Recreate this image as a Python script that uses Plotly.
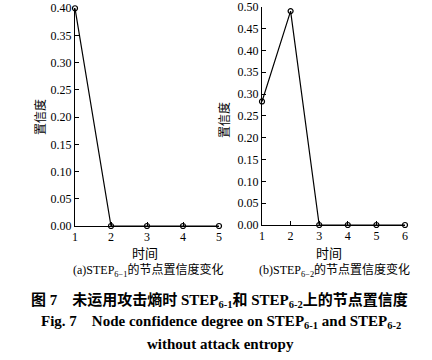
import plotly.graph_objects as go

time_a = [1, 2, 3, 4, 5]
conf_a = [0.40, 0.0, 0.0, 0.0, 0.0]
time_b = [1, 2, 3, 4, 5, 6]
conf_b = [0.283, 0.49, 0.0, 0.0, 0.0, 0.0]
yticks_a = [0.00, 0.05, 0.10, 0.15, 0.20, 0.25, 0.30, 0.35, 0.40]
yticks_b = [0.00, 0.05, 0.10, 0.15, 0.20, 0.25, 0.30, 0.35, 0.40, 0.45, 0.50]

W, H = 432, 360
SERIF = "Liberation Serif, Times New Roman, serif"
CJK = "Noto Sans CJK SC"

def px_x(p):
    return p / W

def px_y(p):
    return 1 - p / H

fig = go.Figure()
line_style = dict(color="black", width=1.2)
marker_style = dict(symbol="circle-open", size=5, color="black", line=dict(width=1.2))
fig.add_trace(go.Scatter(x=time_a, y=conf_a, mode="lines+markers", line=line_style,
                         marker=marker_style, xaxis="x", yaxis="y", cliponaxis=False,
                         showlegend=False))
fig.add_trace(go.Scatter(x=time_b, y=conf_b, mode="lines+markers", line=line_style,
                         marker=marker_style, xaxis="x2", yaxis="y2", cliponaxis=False,
                         showlegend=False))

axis_common = dict(showline=True, linecolor="black", linewidth=1, showgrid=False,
                   zeroline=False, ticks="inside", ticklen=4, tickcolor="black",
                   automargin=False, ticklabeloverflow="allow",
                   tickfont=dict(family=SERIF, size=12, color="black"))

fig.update_layout(
    width=W, height=H,
    margin=dict(l=0, r=0, t=0, b=0, autoexpand=False),
    paper_bgcolor="white", plot_bgcolor="white",
    xaxis=dict(domain=[px_x(75), px_x(219)], range=[1, 5], dtick=1, anchor="y", **axis_common),
    yaxis=dict(domain=[px_y(226), px_y(8)], range=[0, 0.4005], tickmode="array",
               tickvals=yticks_a, tickformat=".2f", anchor="x", **axis_common),
    xaxis2=dict(domain=[px_x(262), px_x(405)], range=[1, 6], dtick=1, anchor="y2", **axis_common),
    yaxis2=dict(domain=[px_y(225), px_y(6.5)], range=[0, 0.5005], tickmode="array",
                tickvals=yticks_b, tickformat=".2f", anchor="x2", **axis_common),
)

anns = []
def ann(text, x, y, size, family, bold=False, angle=0):
    if bold:
        text = "<b>" + text + "</b>"
    anns.append(dict(text=text, x=px_x(x), y=px_y(y), xref="paper", yref="paper",
                     showarrow=False, xanchor="center", yanchor="middle", textangle=angle,
                     font=dict(family=family, size=size, color="black")))

ann("置信度", 40, 117, 12, CJK, angle=-90)
ann("置信度", 224, 120, 12, CJK, angle=-90)
ann("时间", 145, 253, 13, CJK)
ann("时间", 329, 253, 13, CJK)
ann("(a)STEP<sub>6−1</sub>的节点置信度变化", 148, 270, 12, SERIF + ", " + CJK)
ann("(b)STEP<sub>6−2</sub>的节点置信度变化", 334, 270, 12, SERIF + ", " + CJK)
ann("图 7　未运用攻击熵时 STEP<sub>6-1</sub>和 STEP<sub>6-2</sub>上的节点置信度", 219, 300, 15,
    SERIF + ", " + CJK, bold=True)
ann("Fig. 7　Node confidence degree on STEP<sub>6-1</sub> and STEP<sub>6-2</sub>", 221, 322, 15,
    SERIF, bold=True)
ann("without attack entropy", 220, 344, 15, SERIF, bold=True)
fig.update_layout(annotations=anns)

fig.write_html("out.html", config={"displayModeBar": False},
               post_script="document.body.style.margin='0';document.body.style.padding='0';")
